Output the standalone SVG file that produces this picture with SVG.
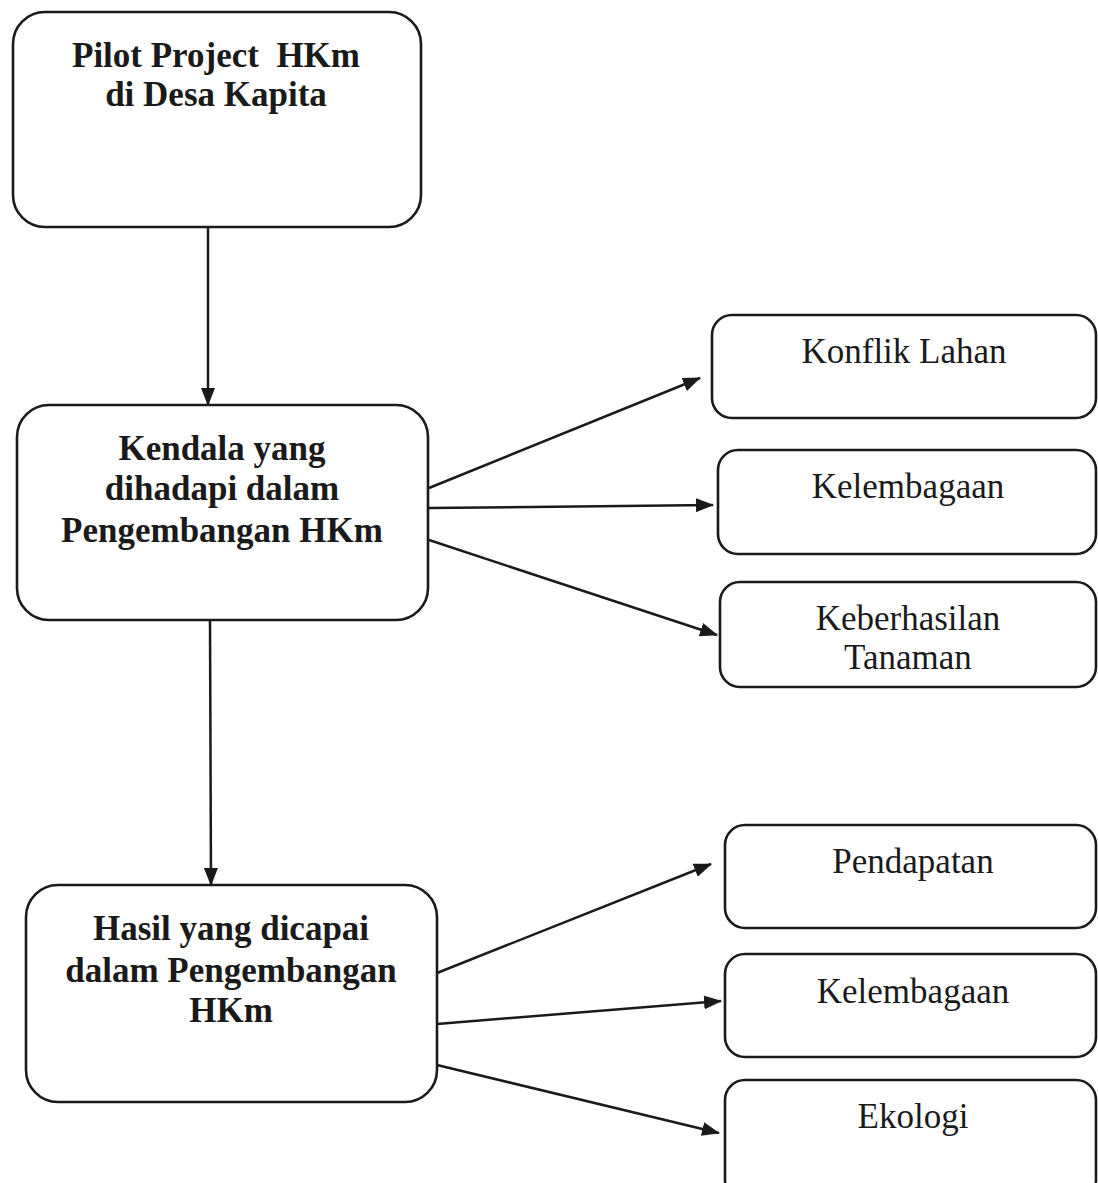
<svg xmlns="http://www.w3.org/2000/svg" width="1098" height="1183" viewBox="0 0 1098 1183">
<style>
.box{fill:#fff;stroke:#1a1a1a;stroke-width:2.6}
.b{font-family:"Liberation Serif","Times New Roman",serif;font-weight:bold;font-size:35px;fill:#1a1a1a;text-anchor:middle}
.r{font-family:"Liberation Serif","Times New Roman",serif;font-size:35px;fill:#1a1a1a;text-anchor:middle}
.c{fill:none;stroke:#1a1a1a;stroke-width:2.5}
</style>
<defs>
<marker id="ah" markerWidth="18" markerHeight="14" refX="17" refY="7" orient="auto" markerUnits="userSpaceOnUse">
<path d="M0,0 L18,7 L0,14 Z" fill="#1a1a1a"/>
</marker>
</defs>
<rect width="1098" height="1183" fill="#fff"/>
<g id="connectors">
<line class="c" x1="208" y1="227" x2="208" y2="405" marker-end="url(#ah)"/>
<line class="c" x1="210" y1="620" x2="211" y2="885" marker-end="url(#ah)"/>
<line class="c" x1="429" y1="488" x2="700" y2="378" marker-end="url(#ah)"/>
<line class="c" x1="429" y1="508" x2="713" y2="505" marker-end="url(#ah)"/>
<line class="c" x1="429" y1="540" x2="717" y2="635" marker-end="url(#ah)"/>
<line class="c" x1="437" y1="973" x2="711" y2="864" marker-end="url(#ah)"/>
<line class="c" x1="437" y1="1024" x2="721" y2="1001" marker-end="url(#ah)"/>
<line class="c" x1="437" y1="1065" x2="719" y2="1133" marker-end="url(#ah)"/>
</g>
<g id="pilot">
<rect class="box" x="13" y="12" width="408" height="215" rx="32"/>
<text class="b" x="216" y="67" xml:space="preserve">Pilot Project  HKm</text>
<text class="b" x="216" y="106">di Desa Kapita</text>
</g>
<g id="kendala">
<rect class="box" x="17" y="405" width="411" height="215" rx="32"/>
<text class="b" x="222" y="460">Kendala yang</text>
<text class="b" x="222" y="500">dihadapi dalam</text>
<text class="b" x="222" y="542">Pengembangan HKm</text>
</g>
<g id="hasil">
<rect class="box" x="26" y="885" width="411" height="217" rx="32"/>
<text class="b" x="231" y="940">Hasil yang dicapai</text>
<text class="b" x="231" y="982">dalam Pengembangan</text>
<text class="b" x="231" y="1022">HKm</text>
</g>
<g id="konflik">
<rect class="box" x="712" y="315" width="384" height="103" rx="20"/>
<text class="r" x="904" y="363">Konflik Lahan</text>
</g>
<g id="kelembagaan1">
<rect class="box" x="718" y="450" width="378" height="104" rx="20"/>
<text class="r" x="908" y="498">Kelembagaan</text>
</g>
<g id="keberhasilan">
<rect class="box" x="720" y="582" width="376" height="105" rx="20"/>
<text class="r" x="908" y="630">Keberhasilan</text>
<text class="r" x="908" y="669">Tanaman</text>
</g>
<g id="pendapatan">
<rect class="box" x="725" y="825" width="371" height="103" rx="20"/>
<text class="r" x="913" y="873">Pendapatan</text>
</g>
<g id="kelembagaan2">
<rect class="box" x="725" y="954" width="371" height="103" rx="20"/>
<text class="r" x="913" y="1003">Kelembagaan</text>
</g>
<g id="ekologi">
<rect class="box" x="725" y="1080" width="371" height="120" rx="20"/>
<text class="r" x="913" y="1128">Ekologi</text>
</g>
</svg>
